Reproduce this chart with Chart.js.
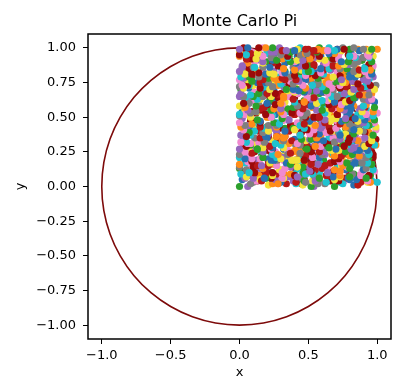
<!DOCTYPE html>
<html>
<head>
<meta charset="utf-8">
<title>Monte Carlo Pi</title>
<script src="https://cdn.jsdelivr.net/npm/chart.js@4.4.1/dist/chart.umd.min.js"></script>
<style>
  html, body { margin: 0; padding: 0; background: #fff; }
  #pi { display: block; }
</style>
</head>
<body>
<canvas id="pi" width="400" height="379"></canvas>
<script>
// sample points in the unit square, stored in hundredths (one line per strip of y)
const ptsX = [
  45,0,73,21,89,28,54,10,83,34,66,52,100,46,24,76,6,62,30,86,13,69,41,93,
  89,12,35,58,7,77,47,21,96,32,69,55,4,40,79,16,67,93,23,53,71,87,26,44,
  23,64,4,83,41,54,14,98,71,32,8,80,48,95,58,19,37,89,11,54,77,28,68,46,
  71,30,94,7,50,83,19,39,61,0,90,29,47,78,15,96,37,55,10,86,42,74,25,64,
  13,82,50,27,97,61,4,71,35,91,9,54,69,21,41,93,58,6,75,32,44,84,21,66,
  53,94,17,75,39,6,86,58,29,48,97,16,75,35,67,3,89,23,58,79,11,44,68,33,
  46,26,86,73,50,24,96,64,15,79,41,4,55,69,32,96,21,48,76,7,58,35,12,89,
  43,71,27,75,57,10,89,37,20,58,94,49,80,8,31,71,99,14,54,40,83,3,65,25,
  65,24,71,46,84,11,56,33,99,17,76,48,29,88,3,59,40,21,80,53,4,94,33,68,
  66,18,87,44,29,78,8,55,94,41,21,71,52,9,91,33,73,4,59,99,27,46,82,14,
  29,69,45,12,80,56,25,88,3,64,37,77,14,99,46,29,60,84,7,40,71,20,96,51,
  95,42,68,15,83,32,60,8,76,21,49,98,54,64,35,82,8,58,27,89,20,71,2,46,
  26,57,12,79,35,66,51,100,48,21,78,8,59,31,86,13,69,42,93,45,2,71,20,89,
  21,97,31,70,54,4,39,81,16,67,92,23,53,72,87,27,42,91,9,35,62,4,78,48,
  31,4,82,50,93,60,20,33,92,10,55,78,25,71,44,22,66,4,83,40,53,14,98,75,
  28,47,79,15,96,36,56,12,84,42,74,23,67,68,32,92,6,54,80,20,40,58,4,89,
  22,42,94,54,7,79,30,44,86,17,67,15,80,49,25,98,62,1,74,35,88,11,54,68,
  4,90,22,57,79,10,46,68,32,52,92,21,72,40,7,83,62,27,47,99,13,77,36,67,
  83,41,52,17,97,74,29,6,83,47,94,61,17,37,90,9,57,75,27,71,43,24,65,0,
  82,21,39,60,4,88,28,48,76,17,96,36,56,9,87,44,71,24,64,71,31,93,7,50,
  73,33,91,12,51,69,25,39,95,54,6,79,30,45,85,17,66,17,80,48,28,96,62,2,
  50,97,15,78,33,66,4,89,23,58,79,11,44,68,33,50,94,20,72,42,6,83,61,26,
  59,6,79,46,20,97,31,71,54,3,42,80,15,66,92,25,52,72,86,25,46,90,9,36,
  53,14,100,73,29,7,81,50,93,58,20,35,92,9,57,75,27,71,43,24,65,0,86,39,
  39,57,2,88,23,47,75,15,95,31,55,8,85,41,72,19,63,69,28,93,4,48,80,16,
  94,58,1,73,32,88,10,48,68,20,40,92,53,5,73,31,42,82,18,63,11,80,48,24,
  17,73,37,5,81,60,24,46,97,15,73,33,64,0,90,21,52,80,7,42,69,27,51,92,
  34,62,52,96,44,22,75,6,57,27,84,13,69,37,93,40,0,73,16,89,25,52,9,78,
  0,38,80,15,62,92,23,48,72,82,27,42,87,9,31,60,4,74,47,17,94,30,69,53,
  17,35,87,9,52,77,24,67,43,23,61,0,84,37,52,13,94,72,28,4,81,44,93,58,
  5,49,81,17,36,59,0,90,24,44,76,13,98,32,55,6,83,44,70,22,63,65,30,91,
  86,8,51,69,20,38,94,52,5,74,31,42,82,18,61,15,79,45,26,96,56,1,73,32,
  58,27,45,97,11,77,32,63,1,90,19,54,80,7,44,67,27,51,91,17,73,36,5,83,
  18,87,27,54,6,80,33,65,49,94,47,21,77,3,59,27,83,15,66,39,92,40,1,70,
  90,21,51,73,82,25,44,86,9,32,60,4,74,47,15,98,29,66,55,0,36,80,15,62,
  54,77,24,68,40,23,62,0,84,40,48,13,97,70,31,4,77,47,91,58,19,31,89,8,
  97,32,56,8,81,43,71,23,62,65,30,92,6,49,80,15,38,60,0,89,25,44,76,12,
  77,46,26,98,57,0,73,31,89,7,52,67,20,39,90,56,4,74,30,42,81,18,65,12,
  13,77,32,64,0,90,20,54,80,10,40,67,30,49,94,17,69,39,3,83,60,23,47,96,
  76,3,60,29,81,14,67,40,91,40,1,71,19,87,26,52,8,81,32,64,50,94,47,20,
  73,46,18,98,28,67,56,0,39,78,15,63,91,22,48,73,83,24,43,88,6,34,60,3,
  63,2,82,39,48,15,95,71,30,6,77,46,93,57,19,33,86,9,53,75,27,65,43,21,
  84,41,73,21,61,68,29,94,3,48,80,17,40,57,1,86,25,48,74,14,96,31,55,7,
  52,4,76,31,41,83,19,61,14,78,48,25,95,59,0,73,33,87,9,50,65,22,40,91,
  79,10,41,68,27,52,91,17,72,40,2,83,59,24,48,96,11,76,32,63,2,86,22,54,
  68,37,94,42,0,72,17,90,24,52,9,79,35,62,51,94,46,23,74,5,58,27,84,12,
  69,83,26,44,87,8,35,56,5,74,48,17,95,30,65,56,0,37,80,13,61,93,23,49,
  71,31,3,80,44,94,57,17,34,90,6,54,76,24,69,42,19,64,0,83,40,48,14,96
];
const ptsY = [
  2,0,3,1,4,2,0,3,1,2,4,0,3,1,2,4,0,2,3,1,4,0,2,3,
  6,4,7,5,8,6,5,7,4,6,8,5,7,4,6,8,5,7,6,4,7,8,5,6,
  10,8,11,9,12,10,8,11,9,12,10,9,11,8,10,12,9,11,10,8,12,9,11,10,
  14,12,16,13,15,17,12,14,16,13,15,12,17,14,13,16,15,12,14,17,13,15,16,14,
  19,17,20,18,21,19,17,20,18,21,19,17,20,18,19,21,17,20,18,19,21,18,20,17,
  23,21,24,22,25,23,21,24,22,25,23,22,24,21,23,25,22,24,21,23,25,22,24,23,
  27,25,28,26,29,27,25,28,26,29,27,25,28,26,27,29,26,28,25,27,29,26,28,27,
  31,29,32,30,33,31,29,32,30,33,31,29,32,30,31,33,30,32,29,31,33,30,32,31,
  35,33,36,34,37,35,33,36,34,37,35,33,36,34,35,37,34,36,33,35,37,34,36,35,
  39,37,41,38,42,40,37,41,39,42,38,40,37,41,39,42,38,40,37,41,39,42,38,40,
  44,42,45,43,46,44,42,45,43,46,44,42,45,43,44,46,43,45,42,44,46,43,45,44,
  48,46,49,47,50,48,46,49,47,50,48,46,49,47,48,50,47,49,46,48,50,47,49,48,
  52,50,53,51,54,52,50,53,51,54,52,50,53,51,52,54,51,53,50,52,54,51,53,52,
  56,54,57,55,58,56,54,57,55,58,56,54,57,55,56,58,55,57,54,56,58,55,57,56,
  60,58,61,59,62,60,58,61,59,62,60,58,61,59,60,62,59,61,58,60,62,59,61,60,
  64,62,66,63,67,65,62,66,64,67,63,65,62,66,64,67,63,65,62,66,64,67,63,65,
  69,67,70,68,71,69,67,70,68,71,69,67,70,68,69,71,68,70,67,69,71,68,70,69,
  73,71,74,72,75,73,71,74,72,75,73,71,74,72,73,75,72,74,71,73,75,72,74,73,
  77,75,78,76,79,77,75,78,76,79,77,75,78,76,77,79,76,78,75,77,79,76,78,77,
  81,79,82,80,83,81,79,82,80,83,81,79,82,80,81,83,80,82,79,81,83,80,82,81,
  85,83,86,84,87,85,83,86,84,87,85,83,86,84,85,87,84,86,83,85,87,84,86,85,
  89,87,91,88,92,90,87,91,89,92,88,90,87,91,89,92,88,90,87,91,89,92,88,90,
  94,92,95,93,96,94,92,95,93,96,94,92,95,93,94,96,93,95,92,94,96,93,95,94,
  98,96,99,97,100,98,96,99,97,100,98,96,99,97,98,100,97,99,96,98,100,97,99,98,
  4,2,5,3,6,4,2,5,3,6,4,2,5,3,4,6,3,5,2,4,6,3,5,4,
  8,6,9,7,10,8,6,9,7,10,8,6,9,7,8,10,7,9,6,8,10,7,9,8,
  13,11,14,12,15,13,10,14,12,15,11,13,10,14,12,15,11,13,10,14,12,15,11,13,
  17,15,18,16,19,17,15,18,16,19,17,15,18,16,17,19,16,18,15,17,19,16,18,17,
  21,19,22,20,23,21,19,22,20,23,21,19,22,20,21,23,20,22,19,21,23,20,22,21,
  25,23,26,24,27,25,23,26,24,27,25,23,26,24,25,27,24,26,23,25,27,24,26,25,
  29,27,30,28,31,29,27,30,28,31,29,27,30,28,29,31,28,30,27,29,31,28,30,29,
  33,31,34,32,35,33,31,34,32,35,33,31,34,32,33,35,32,34,31,33,35,32,34,33,
  38,36,39,37,40,38,35,39,37,40,36,38,35,39,37,40,36,38,35,39,37,40,36,38,
  42,40,43,41,44,42,40,43,41,44,42,40,43,41,42,44,41,43,40,42,44,41,43,42,
  46,44,47,45,48,46,44,47,45,48,46,44,47,45,46,48,45,47,44,46,48,45,47,46,
  50,48,51,49,52,50,48,51,49,52,50,48,51,49,50,52,49,51,48,50,52,49,51,50,
  54,52,55,53,56,54,52,55,53,56,54,52,55,53,54,56,53,55,52,54,56,53,55,54,
  58,56,59,57,60,58,56,59,57,60,58,56,59,57,58,60,57,59,56,58,60,57,59,58,
  63,61,64,62,65,63,60,64,62,65,61,63,60,64,62,65,61,63,60,64,62,65,61,63,
  67,65,68,66,69,67,65,68,66,69,67,65,68,66,67,69,66,68,65,67,69,66,68,67,
  71,69,72,70,73,71,69,72,70,73,71,69,72,70,71,73,70,72,69,71,73,70,72,71,
  75,73,76,74,77,75,73,76,74,77,75,73,76,74,75,77,74,76,73,75,77,74,76,75,
  79,77,80,78,81,79,77,80,78,81,79,77,80,78,79,81,78,80,77,79,81,78,80,79,
  83,81,84,82,85,83,81,84,82,85,83,81,84,82,83,85,82,84,81,83,85,82,84,83,
  88,86,89,87,90,88,85,89,87,90,86,88,85,89,87,90,86,88,85,89,87,90,86,88,
  92,90,93,91,94,92,90,93,91,94,92,90,93,91,92,94,91,93,90,92,94,91,93,92,
  96,94,97,95,98,96,94,97,95,98,96,94,97,95,96,98,95,97,94,96,98,95,97,96,
  99,98,100,99,100,98,99,100,98,99,100,98,99,100,98,99,100,98,99,100,98,99,100,99
];

// unit circle, every 10 degrees
const circleX = [1, 0.985, 0.94, 0.866, 0.766, 0.643, 0.5, 0.342, 0.174, 0,
  -0.174, -0.342, -0.5, -0.643, -0.766, -0.866, -0.94, -0.985, -1,
  -0.985, -0.94, -0.866, -0.766, -0.643, -0.5, -0.342, -0.174, 0,
  0.174, 0.342, 0.5, 0.643, 0.766, 0.866, 0.94, 0.985, 1];
const circleY = [0, 0.174, 0.342, 0.5, 0.643, 0.766, 0.866, 0.94, 0.985, 1,
  0.985, 0.94, 0.866, 0.766, 0.643, 0.5, 0.342, 0.174, 0,
  -0.174, -0.342, -0.5, -0.643, -0.766, -0.866, -0.94, -0.985, -1,
  -0.985, -0.94, -0.866, -0.766, -0.643, -0.5, -0.342, -0.174, 0];

const xTicks = [-1, -0.5, 0, 0.5, 1];
const yTicks = [-1, -0.75, -0.5, -0.25, 0, 0.25, 0.5, 0.75, 1];

const palette = ['#9b0a0a', '#2ca02c', '#1fc3d0', '#f2e33a', '#ff8c1a',
                 '#f08ad0', '#9467bd', '#7f7f7f', '#2870b0', '#b81818'];

const FONT = '"DejaVu Sans", sans-serif';
const minus = s => s.replace('-', '\u2212');

const points = ptsX.map((x, i) => ({ x: x / 100, y: ptsY[i] / 100 }));
const pointColors = points.map((p, i) => palette[i % palette.length]);
const circle = circleX.map((x, i) => ({ x: x, y: circleY[i] }));

// frame around the axes + title over the plot area
const framePlugin = {
  id: 'frame',
  afterDraw(chart) {
    const { ctx, chartArea: a } = chart;
    ctx.save();
    ctx.strokeStyle = '#000';
    ctx.lineWidth = 1.5;
    ctx.strokeRect(a.left, a.top, a.right - a.left, a.bottom - a.top);
    ctx.fillStyle = '#000';
    ctx.font = '16px ' + FONT;
    ctx.textAlign = 'center';
    ctx.textBaseline = 'alphabetic';
    ctx.fillText('Monte Carlo Pi', (a.left + a.right) / 2, 26);
    ctx.restore();
  }
};

function axis(ticks, digits, label, fixSize, pad) {
  return {
    type: 'linear',
    min: -1.1,
    max: 1.1,
    afterBuildTicks: s => { s.ticks = ticks.map(v => ({ value: v })); },
    afterFit: fixSize,
    border: { display: false },
    grid: { drawOnChartArea: false, drawTicks: true, tickLength: 5, color: '#000', lineWidth: 1 },
    ticks: {
      padding: pad,
      color: '#000',
      font: { family: FONT, size: 13 },
      callback: v => minus(v.toFixed(digits))
    },
    title: {
      display: true,
      text: label,
      color: '#000',
      padding: 0,
      font: { family: FONT, size: 13, lineHeight: 1 }
    }
  };
}

new Chart(document.getElementById('pi'), {
  type: 'scatter',
  data: {
    datasets: [
      {
        data: points,
        pointRadius: 3.6,
        pointBorderWidth: 0,
        pointBackgroundColor: pointColors,
        order: 0
      },
      {
        data: circle,
        showLine: true,
        tension: 0.33,
        borderColor: '#7d0a0a',
        borderWidth: 1.6,
        pointRadius: 0,
        order: 1
      }
    ]
  },
  options: {
    responsive: false,
    animation: false,
    layout: { padding: { top: 34, right: 9, bottom: 0, left: 14 } },
    plugins: { legend: { display: false }, tooltip: { enabled: false } },
    scales: {
      x: axis(xTicks, 1, 'x', s => { s.height = 40; }, 4),
      y: axis(yTicks, 2, 'y', s => { s.width = 74; }, 7)
    }
  },
  plugins: [framePlugin]
});
</script>
</body>
</html>
